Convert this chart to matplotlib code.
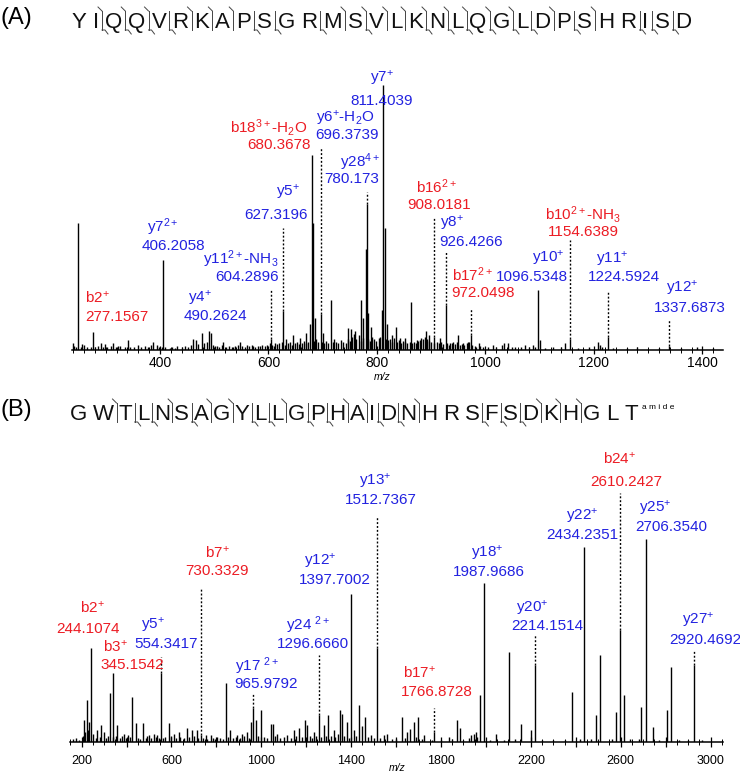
import matplotlib
matplotlib.use("Agg")
import matplotlib.pyplot as plt
from matplotlib.ticker import MultipleLocator, FuncFormatter

plt.rcParams['font.family'] = ['Liberation Sans', 'DejaVu Sans']
plt.rcParams['mathtext.fontset'] = 'custom'
plt.rcParams['mathtext.rm'] = 'Liberation Sans'
plt.rcParams['mathtext.it'] = 'Liberation Sans:italic'
plt.rcParams['mathtext.bf'] = 'Liberation Sans:bold'

RED = '#ec1c24'
BLUE = '#2222e0'

# ---------------- panel A ----------------
seq_a = list("YIQQVRKAPSGRMSVLKNLQGLDPSHRISD")
marks_a = ['', 'by', 'by', 'by', 'b', 'y', 'y', 'y', 'b', 'b', '', 'b', 'y', 'by',
           'y', 'y', 'by', 'by', 'by', 'by', 'by', 'b', 'y', 'b', 'y', '', 'b', 'b', 'b']

a_ion_names = [r"$\mathregular{b2^{+}}$", r"$\mathregular{y7^{2+}}$", r"$\mathregular{y4^{+}}$",
               r"$\mathregular{y11^{2+}}$-NH$_3$", r"$\mathregular{y5^{+}}$",
               r"$\mathregular{b18^{3+}}$-H$_2$O", r"$\mathregular{y6^{+}}$-H$_2$O",
               r"$\mathregular{y28^{4+}}$", r"$\mathregular{y7^{+}}$", r"$\mathregular{b16^{2+}}$",
               r"$\mathregular{y8^{+}}$", r"$\mathregular{b17^{2+}}$", r"$\mathregular{y10^{+}}$",
               r"$\mathregular{b10^{2+}}$-NH$_3$", r"$\mathregular{y11^{+}}$", r"$\mathregular{y12^{+}}$"]
a_ion_values = ["277.1567", "406.2058", "490.2624", "604.2896", "627.3196", "680.3678",
                "696.3739", "780.173", "811.4039", "908.0181", "926.4266", "972.0498",
                "1096.5348", "1154.6389", "1224.5924", "1337.6873"]
a_ion_type = ['b', 'y', 'y', 'y', 'y', 'b', 'y', 'y', 'y', 'b', 'y', 'b', 'y', 'b', 'y', 'y']
a_ion_mz = [277, 406.2, 490, 604, 627.3, 680.4, 696.8, 781, 811.7, 905, 927,
            973, 1097.5, 1156.5, 1225, 1339]
a_ion_h = [6.9, 34, 7.2, 4.3, 14.7, 73.6, 13.5, 55, 100, 5, 17, 5.7, 22.6, 4, 4.8, 1.6]
a_dot_top = [None, None, None, 22.6, 46, None, 76.2, 59.6, None, 50.2, 37, 15.8,
             None, 41.5, 22.3, 11.3]

a_peak_mz = [249.5, 682, 714.6, 770.5, 808.6, 814.8, 862.7]
a_peak_h = [48, 48, 19, 19, 15, 46, 18]

a_minor_mz = [240, 257, 292, 298, 314, 323, 341, 360, 388, 394, 418, 428, 461, 466, 477,
              494, 505, 517, 535, 547.5, 560, 572, 584, 612, 633, 646, 658, 670, 676, 686,
              700.6, 747, 753, 760, 775, 779, 784, 789, 818, 827, 835, 842, 851, 873, 882,
              891, 896, 916, 934.5, 941, 950, 959, 968, 988, 1014, 1030, 1034, 1042, 1073,
              1087, 1100, 1147, 1208, 1211]
a_minor_h = [2.8, 2.1, 2.8, 2.1, 2.8, 1.5, 3.8, 1.8, 3, 1.8, 0.9, 0.9, 4.3, 3.8, 6.3,
             6.5, 1.5, 3, 1.1, 3, 1.8, 1.5, 1.5, 2.8, 4.3, 5.7, 4.4, 6.3, 10, 12,
             6.3, 8.2, 7.8, 7, 12, 38, 14, 8.8, 10, 5.7, 8.8, 4.4, 4.4, 3.8, 4.4,
             7, 5.7, 4.4, 2.5, 3.1, 5.7, 2.5, 3.1, 2.5, 1.9, 1.9, 2.5, 2.5, 1.9,
             1.9, 3.8, 2.5, 3.1, 1.9]

a_grass_mz = [242, 246, 255, 260, 266, 273, 280, 286, 295, 303, 309, 318, 327, 335, 345,
              352, 365, 372, 378, 384, 398, 403, 410, 422, 432, 440, 447, 452, 458, 470,
              481, 486, 498, 502, 509, 514, 521, 528, 532, 538, 544, 551, 556, 564, 569,
              576, 581, 588, 593, 598, 602, 606, 610, 615, 619, 625, 630, 636, 640, 643,
              648, 652, 656, 661, 665, 669, 673, 684, 688, 692, 699, 702, 706, 710, 718,
              720, 724, 728, 733, 737, 742, 746, 750, 754, 758, 762, 766, 771, 775, 783,
              787, 791, 795, 799, 803, 806, 816, 820, 824, 828, 832, 836, 840, 844, 848,
              852, 856, 860, 865, 868, 872, 876, 880, 884, 888, 892, 896, 900, 905, 910,
              914, 918, 922, 929, 933, 938, 944, 948, 953, 957, 961, 965, 970, 976, 980,
              983, 990, 995, 1005, 1020, 1048, 1055, 1065, 1080, 1092, 1110, 1125, 1140,
              1170, 1190, 1215, 1235, 1260, 1280, 1320, 1360, 1390, 1420]
a_grass_h = [1.5, 1, 1.2, 1.8, 1, 1.3, 1, 1.5, 1, 1.2, 1.6, 1, 1.4, 1.1, 1.3,
             1, 1.2, 1.5, 1, 1.8, 1.2, 1, 1.3, 1.1, 1.5, 1.2, 1.6, 1, 2, 2.2,
             2.5, 3, 2, 1.5, 1.2, 1.8, 1, 1.5, 1, 1.6, 2, 1.5, 1.2, 1.4, 1.8,
             1.3, 1.6, 2, 1.5, 1.8, 2.5, 2, 1.5, 2.2, 2.8, 3, 2, 2.5, 3.2, 2,
             2.6, 3, 2.2, 2.8, 3.4, 2.5, 3, 3.5, 4, 3, 3.2, 2.6, 3.5, 2.8, 3,
             4, 3.2, 2.5, 3.8, 3, 2.8, 4, 3.3, 5, 6, 4, 5.5, 3.5, 4.5, 4,
             3.5, 5, 4, 3.5, 4.5, 5, 4.2, 3.6, 4, 3.2, 4.4, 3, 3.6, 2.8, 3.4,
             3, 2.6, 3.2, 2.5, 3, 2.8, 3.4, 3.8, 4.2, 5, 4, 3.5, 3, 2.8, 3.2,
             2.5, 3, 2.2, 2.5, 2, 2.6, 2.2, 3, 2, 2.4, 1.8, 2.5, 3, 2, 1.5,
             1.2, 1.5, 1, 1.2, 1, 1, 1.2, 1, 1, 1.3, 0.8, 1, 1,
             0.8, 1, 1.2, 0.8, 0.8, 1, 0.8, 0.8, 1, 0.8]

# label layout for panel A (number line centre in data units, name offset in px)
a_lab_mz = [320.7, 424, 503, 560, 614, 619, 745, 754, 809, 914, 973, 995, 1086, 1180, 1255, 1377]
a_lab_h = [12.5, 39.2, 12.8, 27.5, 50.9, 77.4, 81.1, 64.5, 94, 54.7, 40.8, 21.5, 27.5, 44.5, 27.5, 15.8]
a_name_dx = [-20, -10, -16, -6, 12, -10, -2, 8, 0, -2, -19, -10, 16, 0, -12, -8]
a_name_dy = [19, 19, 18, 18, 23, 17, 17, 17, 22, 18, 18, 18, 19, 18, 18, 20]

# ---------------- panel B ----------------
seq_b = list("GWTLNSAGYLLGPHAIDNHRSFSDKHGLT")
marks_b = ['', 'y', 'b', 'b', 'y', 'b', 'y', 'y', 'b', 'b', 'y', 'b', 'b', 'y', 'y',
           'b', 'b', 'y', '', '', 'b', 'b', 'b', 'y', 'y', 'y', '', '']

b_ion_names = [r"$\mathregular{b2^{+}}$", r"$\mathregular{b3^{+}}$", r"$\mathregular{y5^{+}}$",
               r"$\mathregular{b7^{+}}$", r"$\mathregular{y17\ ^{2+}}$", r"$\mathregular{y24\ ^{2+}}$",
               r"$\mathregular{y12^{+}}$", r"$\mathregular{y13^{+}}$", r"$\mathregular{b17^{+}}$",
               r"$\mathregular{y18^{+}}$", r"$\mathregular{y20^{+}}$", r"$\mathregular{y22^{+}}$",
               r"$\mathregular{b24^{+}}$", r"$\mathregular{y25^{+}}$", r"$\mathregular{y27^{+}}$"]
b_ion_values = ["244.1074", "345.1542", "554.3417", "730.3329", "965.9792", "1296.6660",
                "1397.7002", "1512.7367", "1766.8728", "1987.9686", "2214.1514",
                "2434.2351", "2610.2427", "2706.3540", "2920.4692"]
b_ion_type = ['b', 'b', 'y', 'b', 'y', 'y', 'y', 'y', 'b', 'y', 'y', 'y', 'b', 'y', 'y']
b_ion_mz = [243, 341, 552, 730, 964, 1257, 1398, 1513, 1770, 1991, 2217, 2436, 2597, 2713, 2926]
b_ion_h = [46.3, 34, 34, 3.3, 16.9, 13.1, 72.7, 46.3, 4.9, 78.5, 37.8, 96, 55.3, 100, 37.8]
b_dot_top = [None, None, 41.9, 75.9, 24.1, 42.9, None, 110.8, 16.7, None, 53.2,
             None, 122.7, None, 45.3]

b_peak_mz = [222, 325, 425, 841, 997, 1297, 1350, 1435, 1460, 1628, 1697, 1872, 1973,
             2103, 2157, 2382, 2491, 2508, 2580, 2615, 2692, 2745, 2807, 2825]
b_peak_h = [20.5, 24, 22, 29.2, 15.6, 13.1, 15.6, 18, 12.3, 12.3, 12.3, 11, 23.3,
            44.3, 8.7, 24.6, 13.1, 42.7, 14.8, 23.3, 17.2, 7.4, 15.9, 36.9]

b_minor_mz = [210, 233, 270, 287, 299, 359, 388, 406, 440, 474, 500, 522, 537, 589, 611,
              633, 670, 693, 712, 752, 774, 804, 860, 893, 915, 937, 955, 975, 1041, 1053,
              1071, 1116, 1145, 1168, 1193, 1205, 1234, 1279, 1323, 1360, 1380, 1412, 1450,
              1487, 1546, 1561, 1650, 1662, 1680, 1724, 1835, 1884, 1932, 1947, 1954, 2043,
              2199]
b_minor_h = [10.7, 9.9, 5.7, 8.2, 4.9, 8.2, 4.1, 3.3, 9.4, 9.4, 3.3, 4.1, 3.3, 9.5, 4.1,
             4.9, 7, 5.7, 5.7, 3.3, 3.3, 2.5, 5.7, 3.3, 4.1, 4.9, 9.9, 10.8, 8.7, 8.7,
             4.1, 3.3, 5.7, 7, 11, 8.2, 4.9, 8.2, 5.7, 14, 9.9, 5.7, 8,
             3.3, 3.3, 4.1, 4.9, 6.5, 9.9, 3.3, 2.5, 7, 3.3, 4.1, 4.9, 4.1,
             5.7]

b_grass_mz = [160, 175, 190, 205, 215, 228, 250, 262, 280, 310, 318, 338, 352, 372, 380,
              398, 415, 450, 460, 485, 492, 510, 530, 545, 562, 572, 600, 620, 640, 655,
              680, 700, 720, 740, 760, 785, 795, 815, 830, 850, 875, 885, 905, 925, 945,
              985, 1010, 1025, 1060, 1085, 1100, 1130, 1155, 1180, 1215, 1225, 1245, 1265,
              1288, 1310, 1330, 1340, 1370, 1390, 1420, 1475, 1500, 1530, 1580, 1600, 1640,
              1690, 1715, 1760, 1800, 1850, 1900, 1925, 1960, 2020, 2080, 2130, 2250, 2300,
              2350, 2420, 2470, 2560, 2640, 2680, 2770, 2860, 2900, 2960]
b_grass_h = [1.5, 2, 1.2, 3, 5, 6, 4, 2, 2.5, 2, 3, 2.5, 3, 2, 3,
             2, 2.5, 2, 1.5, 2, 3, 2, 2.5, 2, 2, 2.5, 3, 2, 2.5, 2,
             2.5, 3, 2, 2, 1.5, 2, 1.5, 2, 1.5, 2.5, 2, 2.5, 2, 3, 2,
             3, 2.5, 2, 3, 2, 2.5, 2, 3, 2.5, 3, 2, 3, 2.5,
             3, 3, 2.5, 4, 3, 2, 3, 2.5, 2, 2, 1.5, 1.5, 2,
             2.5, 1.5, 1, 1, 1.5, 1, 2, 2.5, 1, 1, 1.5, 1, 1,
             1, 1.5, 1.5, 1.5, 1.5, 1.5, 1, 1, 1, 1]

b_lab_mz = [228, 424, 575.5, 802.6, 1021, 1230, 1328, 1533, 1782, 2014, 2272, 2428, 2624, 2824, 2975]
b_lab_h = [55.7, 37.9, 48.3, 84.2, 28.6, 48.3, 79.8, 119.2, 24.6, 83.7, 57.1, 102, 128, 105.9, 50.2]
b_name_dx = [4, -17, -13, 0, -9, -5, -15, -6, -17, -2, -15, 0, -6, -16, -7]
b_name_dy = [21, 18, 18, 18, 18, 19, 18, 18, 19, 19, 18, 18, 23, 18, 20]

W, H = 740, 772
fig = plt.figure(figsize=(W / 100, H / 100), dpi=100)


def draw_spectrum(ax, groups, ions, labels, fs):
    for mz, h in groups:
        ax.vlines(mz, 0, h, color='black', lw=1.0)
    names, values, kinds, mzs, hs, tops = ions
    lab_mz, lab_h, ndx, ndy = labels
    for i in range(len(names)):
        col = RED if kinds[i] == 'b' else BLUE
        ax.vlines(mzs[i], 0, hs[i], color='black', lw=1.0)
        if tops[i] is not None:
            ax.vlines(mzs[i], hs[i], tops[i], color='black', lw=1.0,
                      linestyles=(0, (1.4, 1.4)))
        ax.text(lab_mz[i], lab_h[i], values[i], color=col, fontsize=fs,
                ha='center', va='center')
        ax.annotate(names[i], (lab_mz[i], lab_h[i]), xytext=(ndx[i] * 0.72, ndy[i] * 0.72),
                    textcoords='offset points', color=col, fontsize=fs,
                    ha='center', va='center')
    for s in ['left', 'top', 'right']:
        ax.spines[s].set_visible(False)
    ax.spines['bottom'].set_linewidth(1.1)
    ax.set_yticks([])
    ax.patch.set_alpha(0)


# panel A axes
axA = fig.add_axes([72 / W, 1 - 350 / H, 651 / W, 270 / H])
axA.set_xlim(237.8, 1437.8)
axA.set_ylim(0, 101.9)
draw_spectrum(axA,
              list(zip(a_grass_mz, a_grass_h)) + list(zip(a_minor_mz, a_minor_h)) +
              list(zip(a_peak_mz, a_peak_h)),
              (a_ion_names, a_ion_values, a_ion_type, a_ion_mz, a_ion_h, a_dot_top),
              (a_lab_mz, a_lab_h, a_name_dx, a_name_dy), 11)
axA.xaxis.set_major_locator(MultipleLocator(200))
axA.xaxis.set_minor_locator(MultipleLocator(20))
axA.tick_params(axis='x', which='major', direction='inout', length=6, width=0.9,
                labelsize=10, pad=1)
axA.tick_params(axis='x', which='minor', direction='inout', length=4, width=0.7)

# panel B axes
axB = fig.add_axes([70 / W, 1 - 742 / H, 653 / W, 292 / H])
axB.set_xlim(148.1, 3055.5)
axB.set_ylim(0, 143.8)
draw_spectrum(axB,
              list(zip(b_grass_mz, b_grass_h)) + list(zip(b_minor_mz, b_minor_h)) +
              list(zip(b_peak_mz, b_peak_h)),
              (b_ion_names, b_ion_values, b_ion_type, b_ion_mz, b_ion_h, b_dot_top),
              (b_lab_mz, b_lab_h, b_name_dx, b_name_dy), 11)
axB.xaxis.set_major_locator(MultipleLocator(200))
axB.xaxis.set_minor_locator(MultipleLocator(50))
axB.xaxis.set_major_formatter(FuncFormatter(lambda v, p: '%d' % v if int(round(v)) % 400 == 200 else ''))
axB.tick_params(axis='x', which='major', direction='inout', length=7, width=0.9,
                labelsize=9, pad=6)
axB.tick_params(axis='x', which='minor', direction='inout', length=4, width=0.7)

fig.text(382 / W, 1 - 377 / H, 'm/z', style='italic', fontsize=7.5, ha='center', va='center')
fig.text(397 / W, 1 - 768 / H, 'm/z', style='italic', fontsize=7.5, ha='center', va='center')

# sequence headers drawn in pixel space
hdr = fig.add_axes([0, 0, 1, 1], zorder=-1)
hdr.set_xlim(0, W)
hdr.set_ylim(H, 0)
hdr.axis('off')
renderer = fig.canvas.get_renderer()


def draw_mark(sx, base, kind):
    top = base - 17
    bot = base + 2
    hdr.plot([sx, sx], [top, bot], color='#444444', lw=0.7)
    if 'y' in kind:
        hdr.plot([sx - 4, sx], [top - 4, top], color='#444444', lw=0.7)
    if 'b' in kind:
        hdr.plot([sx, sx + 3, sx + 6], [bot, bot, bot + 4], color='#444444', lw=0.7)


def draw_sequence(x0, base, seq, marks, gap, space):
    x = x0
    for i, ch in enumerate(seq):
        t = hdr.text(x, base, ch, fontsize=16, ha='left', va='baseline', color='#111111')
        x += t.get_window_extent(renderer=renderer).width
        if i < len(marks):
            if marks[i] == '':
                x += space
            else:
                draw_mark(x + gap / 2, base, marks[i])
                x += gap
    return x


hdr.text(0, 18, '(A)', fontsize=17, ha='left', va='center')
draw_sequence(72, 28, seq_a, marks_a, 6, 6)
hdr.text(0, 410, '(B)', fontsize=17, ha='left', va='center')
end_b = draw_sequence(70, 420, seq_b, marks_b, 4.5, 6)
hdr.text(end_b + 4, 409, 'a m i d e', fontsize=6, ha='left', va='baseline')

fig.savefig('out.png', dpi=100)
